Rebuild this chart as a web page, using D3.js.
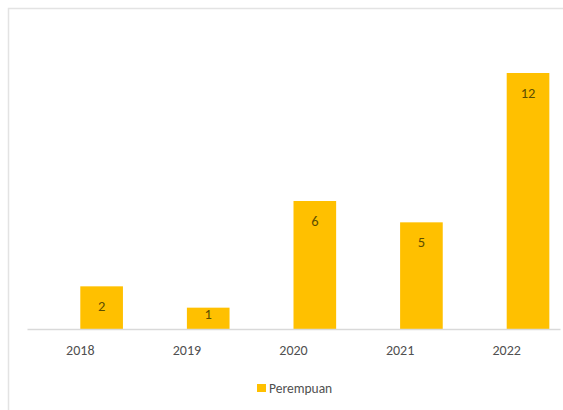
<!DOCTYPE html>
<html><head><meta charset="utf-8">
<script src="https://cdn.jsdelivr.net/npm/d3@7"></script>
<style>
html,body{margin:0;padding:0;background:#fff;}
svg{display:block;}
</style>
</head><body>
<svg id="chart" width="563" height="410"></svg>
<script>
const categories = ["2018", "2019", "2020", "2021", "2022"];
const values = [2, 1, 6, 5, 12];
const seriesName = "Perempuan";

const svg = d3.select("#chart");
const font = "Carlito, Calibri, Lato, sans-serif";

// outer frame
svg.append("rect").attr("x", 8.5).attr("y", 8.5).attr("width", 600).attr("height", 450)
  .attr("fill", "#fff").attr("stroke", "#e3e3e3").attr("stroke-width", 1.5);

const x = d3.scaleBand().domain(categories).range([27, 560]).padding(0);
const y = d3.scaleLinear().domain([0, 12]).range([329, 73]);
const barW = x.step() * 0.4;

// bars
svg.append("g").selectAll("rect").data(values).join("rect")
  .attr("x", (d, i) => x(categories[i]) + x.bandwidth() / 2)
  .attr("y", d => y(d))
  .attr("width", barW)
  .attr("height", d => y(0) - y(d))
  .attr("fill", "#ffc000");

// data labels (inside end)
svg.append("g").selectAll("text").data(values).join("text")
  .attr("x", (d, i) => x(categories[i]) + x.bandwidth() / 2 + barW / 2)
  .attr("y", d => {
    const h = y(0) - y(d);
    return y(d) + (h > 30 ? 20 : h / 2 - 4);
  })
  .attr("text-anchor", "middle")
  .attr("dominant-baseline", "central")
  .attr("font-family", font)
  .attr("font-size", 14.5)
  .attr("fill", "#5e4e00")
  .text(d => d);

// x axis
const axis = svg.append("g").attr("transform", `translate(0,${y(0)})`)
  .call(d3.axisBottom(x).tickSize(0).tickPadding(16));
axis.select(".domain").attr("stroke", "#d9d9d9").attr("stroke-width", 1.5);
axis.selectAll("text").attr("font-family", font).attr("font-size", 14).attr("fill", "#505050");

// legend
const lg = svg.append("g");
lg.append("rect").attr("x", 257).attr("y", 384).attr("width", 9).attr("height", 8).attr("fill", "#ffc000");
lg.append("text").attr("x", 269).attr("y", 388).attr("dominant-baseline", "central")
  .attr("font-family", font).attr("font-size", 13.5).attr("fill", "#505050").text(seriesName);
</script>
</body></html>
